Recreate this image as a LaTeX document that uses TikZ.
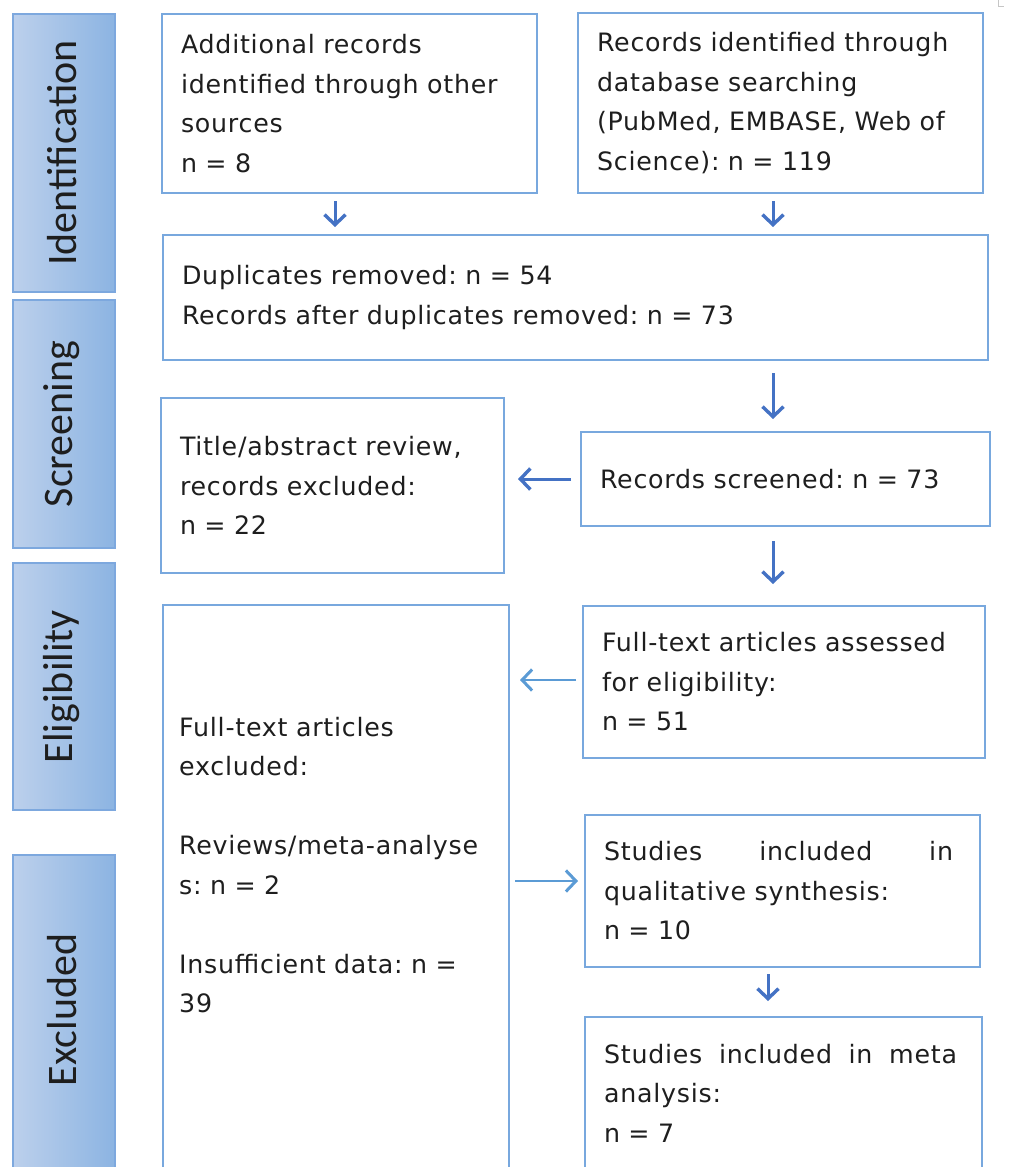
\documentclass[tikz,border=0pt]{standalone}
\usepackage{fontspec}
\setmainfont{DejaVu Sans}[LetterSpace=3]
\newfontfamily\sidefont{Carlito}
\usetikzlibrary{arrows.meta}
\frenchspacing
\definecolor{boxblue}{RGB}{120,168,222}
\definecolor{arrdark}{RGB}{68,114,196}
\definecolor{arrlight}{RGB}{91,155,213}
\definecolor{sideL}{RGB}{188,208,236}
\definecolor{sideR}{RGB}{140,180,226}
\definecolor{sideB}{RGB}{125,168,222}
\definecolor{txtc}{RGB}{30,30,30}
\begin{document}
\begin{tikzpicture}[x=1pt,y=-1pt,
  box/.style={draw=boxblue, line width=2pt, inner xsep=19pt, inner ysep=0pt, align=left, text=txtc, font=\fontsize{25.3}{39.5}\selectfont},
  boxtext/.style={inner sep=0pt, align=left, text=txtc, font=\fontsize{25.3}{39.5}\selectfont},
  sidebar/.style={draw=sideB, line width=1.5pt, left color=sideL, right color=sideR, inner sep=0pt},
  sidelabel/.style={inner sep=0pt, text=txtc, font=\sidefont\fontsize{42}{42}\selectfont},
  arrd/.style={draw=arrdark, line width=3pt, -{Straight Barb[length=10pt,width=21pt,line width=3.4pt]}},
  arrl/.style={draw=arrlight, line width=2.6pt, -{Straight Barb[length=10pt,width=21pt,line width=3pt]}}]
\useasboundingbox (0,0) rectangle (1011,1167);
\clip (0,0) rectangle (1011,1167);
% side bars
\node[sidebar, minimum width=102pt, minimum height=278pt] (sid) at (64,153) {};
\node[sidelabel, rotate=90] (lid) at ([xshift=-2pt]sid.center) {Identification};
\node[sidebar, minimum width=102pt, minimum height=248pt] (sscr) at (64,424) {};
\node[sidelabel, rotate=90] (lscr) at ([xshift=-2pt]sscr.center) {Screening};
\node[sidebar, minimum width=102pt, minimum height=247pt] (selg) at (64,686.5) {};
\node[sidelabel, rotate=90] (lelg) at ([xshift=-2pt]selg.center) {Eligibility};
\node[sidebar, minimum width=102pt, minimum height=330pt, anchor=north] (sexc) at (64,854) {};
\node[sidelabel, rotate=90] (lexc) at (62,1010) {Excluded};
% boxes
\node[box, text width=337pt, minimum height=179pt] (A) at (349.5,103.5)
  {Additional records\\identified through other\\sources\\n = 8};
\node[box, text width=367pt, minimum height=180pt] (B) at (780.5,103)
  {Records identified through\\database searching\\(PubMed, EMBASE, Web of\\Science): n = 119};
\node[box, text width=787pt, minimum height=125pt] (dup) at (575.5,297.5)
  {Duplicates removed: n = 54\\Records after duplicates removed: n = 73};
\node[box, text width=305pt, minimum height=175pt] (title) at (332.5,485.5)
  {Title/abstract review,\\records excluded:\\n = 22};
\node[box, text width=371pt, minimum height=94pt] (scr) at (785.5,479)
  {Records screened: n = 73};
\node[box, text width=364pt, minimum height=152pt] (ass) at (784,682)
  {Full-text articles assessed\\for eligibility:\\n = 51};
\node[box, minimum width=346pt, minimum height=600pt, anchor=north west, inner sep=0pt] (excl) at (162,604) {};
\node[boxtext, text width=320pt, anchor=north west] (excltext) at (179,717)
  {Full-text articles\\excluded:\\[39.5pt]Reviews/meta-analyse\\s: n = 2\\[39.5pt]Insufficient data: n =\\39};
\node[box, text width=357pt, minimum height=152pt] (stu) at (782.5,891)
  {\hbox to 349pt{Studies\hfill included\hfill in}\\qualitative synthesis:\\n = 10};
\node[box, text width=359pt, minimum height=152pt] (meta) at (783.5,1093)
  {\hbox to 353pt{Studies\hfill included\hfill in\hfill meta}\\analysis:\\n = 7};
% arrows
\draw[arrd, shorten <=7pt, shorten >=7pt] ([xshift=-14.5pt]A.south) -- ([xshift=-14.5pt]A.south |- dup.north);
\draw[arrd, shorten <=7pt, shorten >=7pt] ([xshift=-7.5pt]B.south) -- ([xshift=-7.5pt]B.south |- dup.north);
\draw[arrd, shorten <=12pt, shorten >=12pt] ([xshift=-12.5pt]scr.north |- dup.south) -- ([xshift=-12.5pt]scr.north);
\draw[arrd, shorten <=9pt, shorten >=13pt] (scr.west) -- (scr.west -| title.east);
\draw[arrd, shorten <=14pt, shorten >=21pt] ([xshift=-12.5pt]scr.south) -- ([xshift=-12.5pt]scr.south |- ass.north);
\draw[arrl, shorten <=6pt, shorten >=10pt] ([yshift=2pt]ass.west) -- ([yshift=2pt]ass.west -| excl.east);
\draw[arrl, shorten <=5pt, shorten >=6pt] ([yshift=10pt]stu.west -| excl.east) -- ([yshift=10pt]stu.west);
\draw[arrd, shorten <=6pt, shorten >=15pt] ([xshift=-14.5pt]stu.south) -- ([xshift=-14.5pt]stu.south |- meta.north);
% corner mark
\draw[gray!45, line width=0.8pt] (998,0) -- (998,6) -- (1004,6);
\end{tikzpicture}
\end{document}
